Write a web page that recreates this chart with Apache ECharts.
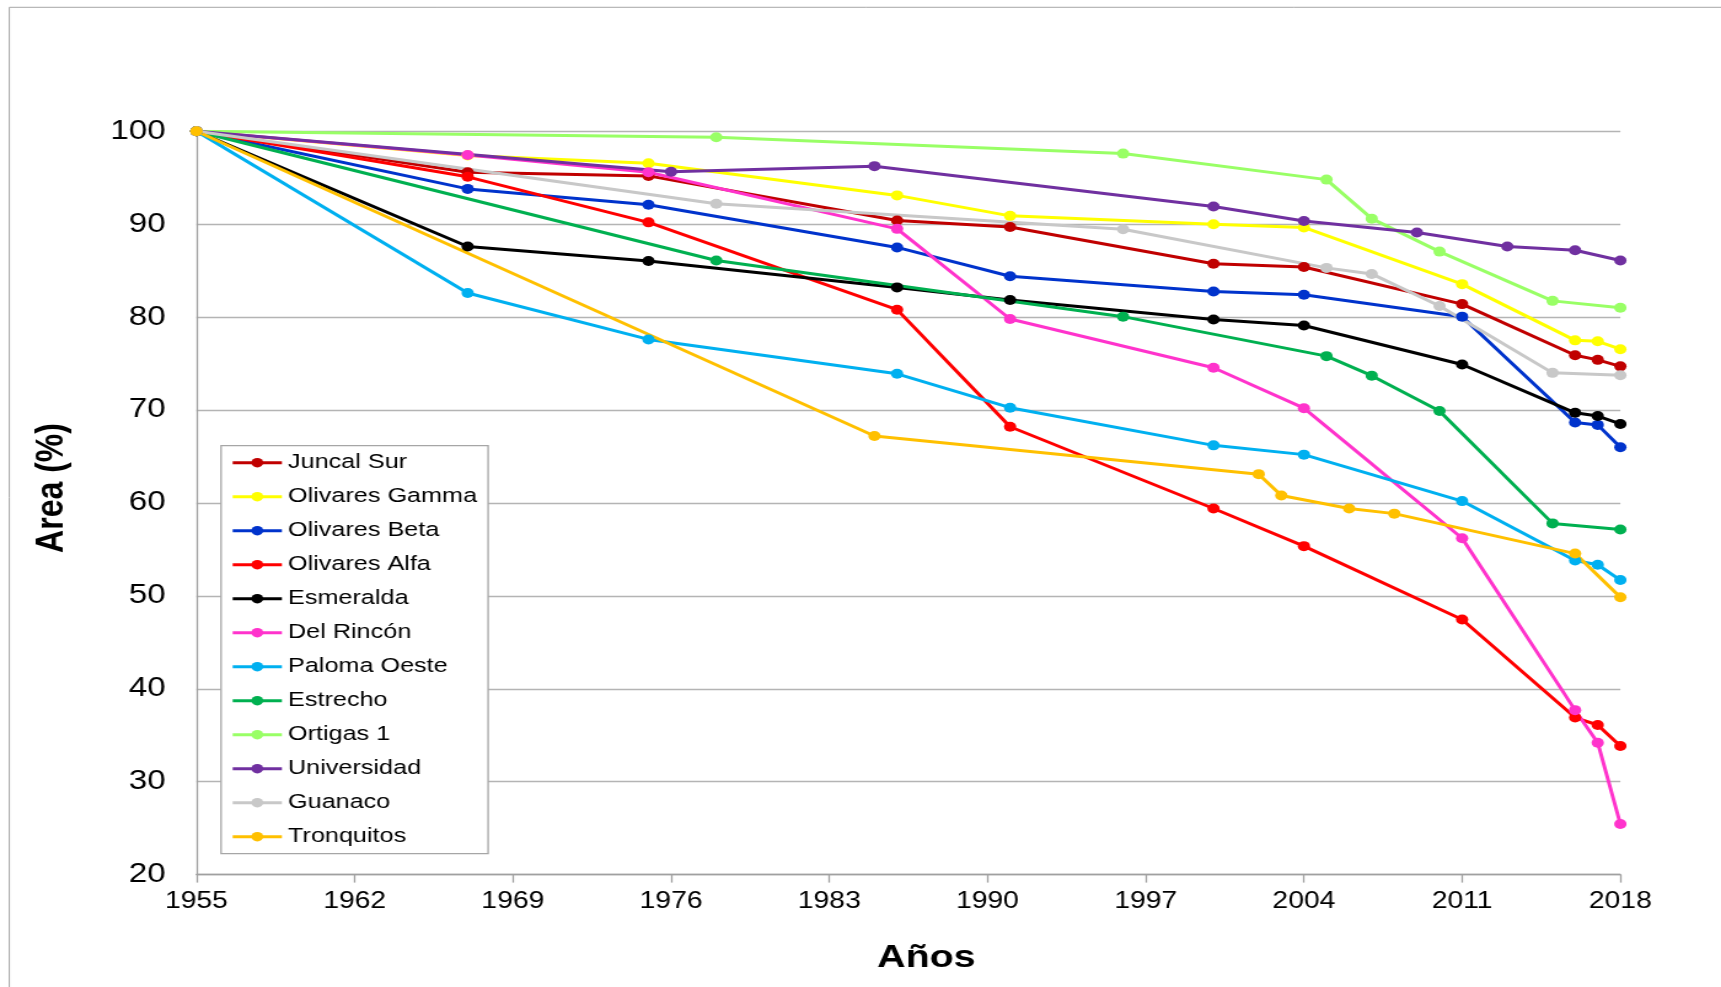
<!DOCTYPE html>
<html>
<head>
<meta charset="utf-8">
<title>Area (%) por año</title>
<script src="https://cdn.jsdelivr.net/npm/echarts@6/dist/echarts.min.js"></script>
<style>
  html, body { margin: 0; padding: 0; background: #fff; overflow: hidden; }
  /* the chart is laid out narrow and widened horizontally */
  #chart { width: 1400px; height: 987px; transform: scaleX(1.22929); transform-origin: 0 0; }
</style>
</head>
<body>
<div id="chart"></div>
<script>
// Survey years shared by groups of glaciers
const yearsOlivares = [1955, 1967, 1975, 1986, 1991, 2000, 2004, 2011, 2016, 2017, 2018];
const yearsEstrecho = [1955, 1978, 1996, 2005, 2007, 2010, 2015, 2018];
const yearsUniversidad = [1955, 1976, 1985, 2000, 2004, 2009, 2013, 2016, 2018];
const yearsTronquitos = [1955, 1985, 2002, 2003, 2006, 2008, 2016, 2018];

// Remaining area (% of 1955 area)
const juncalSur      = [100, 95.6, 95.2, 90.4, 89.7, 85.75, 85.4, 81.4, 75.9, 75.4, 74.7];
const olivaresGamma  = [100, 97.4, 96.55, 93.1, 90.9, 90.0, 89.65, 83.55, 77.5, 77.4, 76.55];
const olivaresBeta   = [100, 93.8, 92.1, 87.5, 84.4, 82.75, 82.4, 80.05, 68.65, 68.4, 66.0];
const olivaresAlfa   = [100, 95.1, 90.2, 80.8, 68.2, 59.4, 55.35, 47.45, 36.9, 36.1, 33.85];
const esmeralda      = [100, 87.6, 86.05, 83.2, 81.85, 79.75, 79.1, 74.9, 69.7, 69.35, 68.5];
const delRincon      = [100, 97.45, 95.6, 89.5, 79.8, 74.55, 70.2, 56.2, 37.7, 34.2, 25.45];
const palomaOeste    = [100, 82.6, 77.6, 73.9, 70.25, 66.2, 65.2, 60.2, 53.8, 53.35, 51.7];
const estrecho       = [100, 86.1, 80.05, 75.8, 73.7, 69.9, 57.8, 57.15];
const ortigas1       = [100, 99.35, 97.6, 94.8, 90.6, 87.05, 81.75, 81.0];
const universidad    = [100, 95.65, 96.25, 91.9, 90.35, 89.1, 87.6, 87.2, 86.1];
const guanaco        = [100, 92.2, 89.45, 85.3, 84.65, 81.2, 74.0, 73.75];
const tronquitos     = [100, 67.2, 63.1, 60.8, 59.4, 58.85, 54.55, 49.85];

const seriesDefs = [
  { name: 'Juncal Sur',     years: yearsOlivares,    values: juncalSur,     color: '#C00000' },
  { name: 'Olivares Gamma', years: yearsOlivares,    values: olivaresGamma, color: '#FFFF00' },
  { name: 'Olivares Beta',  years: yearsOlivares,    values: olivaresBeta,  color: '#0033CC' },
  { name: 'Olivares Alfa',  years: yearsOlivares,    values: olivaresAlfa,  color: '#FF0000' },
  { name: 'Esmeralda',      years: yearsOlivares,    values: esmeralda,     color: '#000000' },
  { name: 'Del Rincón',     years: yearsOlivares,    values: delRincon,     color: '#FF33CC' },
  { name: 'Paloma Oeste',   years: yearsOlivares,    values: palomaOeste,   color: '#00B0F0' },
  { name: 'Estrecho',       years: yearsEstrecho,    values: estrecho,      color: '#00B050' },
  { name: 'Ortigas 1',      years: yearsEstrecho,    values: ortigas1,      color: '#99FF66' },
  { name: 'Universidad',    years: yearsUniversidad, values: universidad,   color: '#7030A0' },
  { name: 'Guanaco',        years: yearsEstrecho,    values: guanaco,       color: '#C8C8C8' },
  { name: 'Tronquitos',     years: yearsTronquitos,  values: tronquitos,    color: '#FFC000' }
];

const FONT = "'Liberation Sans', Arial, sans-serif";
const LINE_W = 3;

const chart = echarts.init(document.getElementById('chart'), null, { renderer: 'canvas' });

chart.setOption({
  animation: false,
  backgroundColor: '#ffffff',
  grid: { left: 159.8, right: 81.9, top: 131.3, bottom: 112.4 },
  xAxis: {
    type: 'value',
    min: 1955,
    max: 2018,
    interval: 7,
    axisLine: { show: true, lineStyle: { color: '#a0a0a0', width: 1.3 } },
    axisTick: { show: true, length: 8, lineStyle: { color: '#a0a0a0', width: 1.3 } },
    axisLabel: { fontSize: 23, color: '#000', fontFamily: FONT, margin: 16, formatter: v => String(v) },
    splitLine: { show: false }
  },
  yAxis: {
    type: 'value',
    min: 20,
    max: 100,
    interval: 10,
    axisLine: { show: true, lineStyle: { color: '#a0a0a0', width: 1.3 } },
    axisTick: { show: false },
    axisLabel: { fontSize: 27, color: '#000', fontFamily: FONT, margin: 25 },
    splitLine: { show: true, lineStyle: { color: '#b4b4b4', width: 1.3 } }
  },
  legend: {
    orient: 'vertical',
    left: 179.8,
    top: 445.7,
    itemWidth: 40,
    itemHeight: 12,
    itemGap: 10,
    padding: [5, 9, 5, 8],
    backgroundColor: '#ffffff',
    borderColor: '#a6a6a6',
    borderWidth: 1.3,
    lineStyle: { width: LINE_W },
    textStyle: { fontSize: 20.5, color: '#000', fontFamily: FONT, lineHeight: 24 },
    data: seriesDefs.map(s => s.name)
  },
  graphic: [
    {
      type: 'rect', silent: true, z: -1,
      shape: { x: 7.6, y: 7.3, width: 1600, height: 1200 },
      style: { fill: 'none', stroke: '#a6a6a6', lineWidth: 1 }
    },
    {
      type: 'text', x: 42, y: 488, rotation: Math.PI / 2,
      style: { text: 'Area (%)', font: 'bold 32px ' + FONT, fill: '#000', align: 'center', verticalAlign: 'middle' }
    },
    {
      type: 'text', x: 753.6, y: 958,
      style: { text: 'Años', font: 'bold 32px ' + FONT, fill: '#000', align: 'center', verticalAlign: 'middle' }
    }
  ],
  series: seriesDefs.map(s => ({
    name: s.name,
    type: 'line',
    data: s.years.map((y, i) => [y, s.values[i]]),
    symbol: 'circle',
    symbolSize: 10,
    color: s.color,
    lineStyle: { color: s.color, width: LINE_W },
    itemStyle: { color: s.color },
    emphasis: { disabled: true }
  }))
});
</script>
</body>
</html>
